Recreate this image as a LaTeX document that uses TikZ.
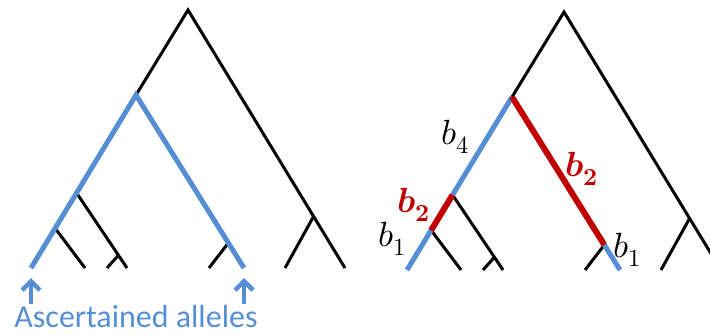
\documentclass[tikz,border=0pt]{standalone}
\usepackage{fontspec}
\usepackage{unicode-math}
\setmathfont{Latin Modern Math}
\newfontfamily\calfont{Carlito}
\usetikzlibrary{arrows.meta,calc,positioning}

\definecolor{ascblue}{RGB}{85,142,213}
\definecolor{branchred}{RGB}{192,0,0}

\begin{document}
\begin{tikzpicture}[x=1pt,y=-1pt,
  tree/.style={line width=3pt},
  asc/.style={ascblue, line width=5pt},
  sel/.style={branchred, line width=6pt},
  ascarrow/.style={ascblue, line width=4.5pt, -{Straight Barb[length=9pt,width=18pt]}, shorten >=10pt},
  blab/.style={font=\fontsize{35}{35}\selectfont, inner sep=0pt},
  rlab/.style={blab, text=branchred}]
\useasboundingbox (0,0) rectangle (710,334);

% Left tree: ascertainment of two alleles
\coordinate (root) at (188,10);
\coordinate (apex) at (136,95);
\coordinate (leafA) at (31,268);
\coordinate (leafB) at (244,268);
\coordinate (leafR) at (345,268);
\coordinate (nR) at ($(root)!0.8!(leafR)$);
\coordinate (leafRa) at (285,268);
\coordinate (nA1) at ($(apex)!0.566!(leafA)$);
\coordinate (leafA1) at (127,268);
\coordinate (nA1s) at ($(nA1)!0.83!(leafA1)$);
\coordinate (leafA1s) at (107,268);
\coordinate (nA2) at ($(apex)!0.77!(leafA)$);
\coordinate (leafA2) at (85,268);
\coordinate (nB) at ($(apex)!0.855!(leafB)$);
\coordinate (leafB1) at (209,268);

\draw[tree] (apex) -- (root) -- (leafR);
\draw[tree] (nR) -- (leafRa);
\draw[tree] (nA1) -- (leafA1);
\draw[tree] (nA1s) -- (leafA1s);
\draw[tree] (nA2) -- (leafA2);
\draw[tree] (nB) -- (leafB1);
\draw[asc] (leafA) -- (apex) -- (leafB);

% Arrows and caption
\coordinate (tailA) at (31,304);
\coordinate (tailB) at (244,304);
\draw[ascarrow] (tailA) -- (leafA);
\draw[ascarrow] (tailB) -- (leafB);
\node[anchor=base, inner sep=0pt, text=ascblue, font=\calfont\fontsize{32}{32}\selectfont]
  (asctext) at (136,327) {Ascertained alleles};

% Right tree: branch lengths
\begin{scope}[shift={(376,2)}]
\coordinate (rroot) at (188,10);
\coordinate (rapex) at (136,95);
\coordinate (rleafA) at (31,268);
\coordinate (rleafB) at (244,268);
\coordinate (rleafR) at (345,268);
\coordinate (rnR) at ($(rroot)!0.8!(rleafR)$);
\coordinate (rleafRa) at (285,268);
\coordinate (rnA1) at ($(rapex)!0.566!(rleafA)$);
\coordinate (rleafA1) at (127,268);
\coordinate (rnA1s) at ($(rnA1)!0.83!(rleafA1)$);
\coordinate (rleafA1s) at (107,268);
\coordinate (rnA2) at ($(rapex)!0.77!(rleafA)$);
\coordinate (rleafA2) at (85,268);
\coordinate (rnB) at ($(rapex)!0.855!(rleafB)$);
\coordinate (rleafB1) at (209,268);
\end{scope}

\begin{scope}
\clip (0,0) rectangle (710,334);
\draw[tree] (rapex) -- (rroot) -- (rleafR);
\draw[tree] (rnR) -- (rleafRa);
\end{scope}
\draw[tree] (rnA1) -- (rleafA1);
\draw[tree] (rnA1s) -- (rleafA1s);
\draw[tree] (rnA2) -- (rleafA2);
\draw[tree] (rnB) -- (rleafB1);
\draw[asc] (rapex) -- (rnA1);
\draw[asc] (rnA2) -- (rleafA);
\draw[asc] (rnB) -- (rleafB);
\draw[sel] (rnA1) -- (rnA2);
\draw[sel] (rapex) -- (rnB);

% Labels
\node[blab] (lbfour) at (455,137) {$b_4$};
\node[rlab] (lbtwoa) at (414,205) {$\symbfit{b}_{\symbf{2}}$};
\node[blab] (lbonea) at (392,239) {$b_1$};
\node[rlab] (lbtwob) at (582,169) {$\symbfit{b}_{\symbf{2}}$};
\node[blab] (lboneb) at (627,250) {$b_1$};
\end{tikzpicture}
\end{document}
